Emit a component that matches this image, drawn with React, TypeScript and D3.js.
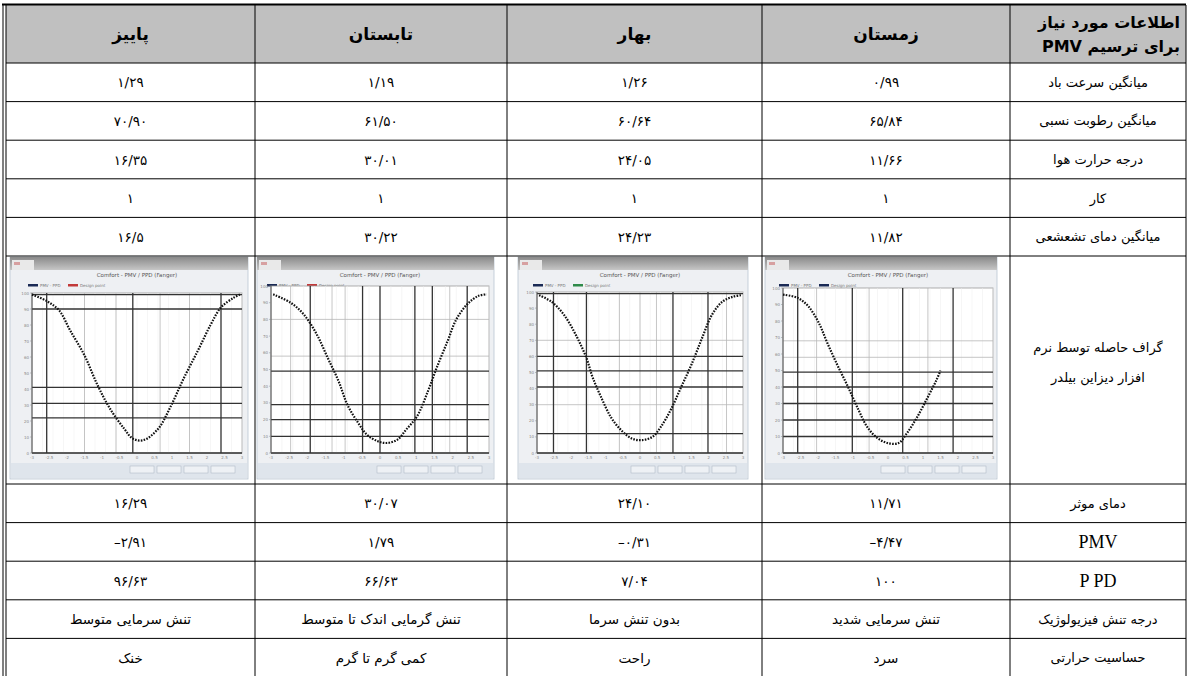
import * as d3 from "d3";

// ---- table values (columns left to right: autumn, summer, spring, winter) ----
const seasons = ["پاییز", "تابستان", "بهار", "زمستان"];
const headerLabel = ["اطلاعات مورد نیاز", "برای ترسیم PMV"];

const topLabels = [
  "میانگین سرعت باد",
  "میانگین رطوبت نسبی",
  "درجه حرارت هوا",
  "کار",
  "میانگین دمای تشعشعی",
];
const windSpeed = ["۱/۲۹", "۱/۱۹", "۱/۲۶", "۰/۹۹"];
const humidity = ["۷۰/۹۰", "۶۱/۵۰", "۶۰/۶۴", "۶۵/۸۴"];
const airTemp = ["۱۶/۳۵", "۳۰/۰۱", "۲۴/۰۵", "۱۱/۶۶"];
const work = ["۱", "۱", "۱", "۱"];
const radiantTemp = ["۱۶/۵", "۳۰/۲۲", "۲۴/۲۳", "۱۱/۸۲"];

const chartLabel = ["گراف حاصله توسط نرم", "افزار دیزاین بیلدر"];

const bottomLabels = ["دمای موثر", "PMV", "P PD", "درجه تنش فیزیولوژیک", "حساسیت حرارتی"];
const effectiveTemp = ["۱۶/۲۹", "۳۰/۰۷", "۲۴/۱۰", "۱۱/۷۱"];
const pmv = ["–۲/۹۱", "۱/۷۹", "–۰/۳۱", "–۴/۴۷"];
const ppd = ["۹۶/۶۳", "۶۶/۶۳", "۷/۰۴", "۱۰۰"];
const stress = ["تنش سرمایی متوسط", "تنش گرمایی اندک تا متوسط", "بدون تنش سرما", "تنش سرمایی شدید"];
const sensation = ["خنک", "کمی گرم تا گرم", "راحت", "سرد"];

// ---- embedded chart screenshots, read as % of plot width / height ----
const autumnCurve: [number, number][] = [
  [0, 99], [7, 95], [13, 89], [18, 77], [25, 61], [31, 43], [37, 28], [44, 15], [48, 9],
  [53, 8], [60, 15], [66, 29], [72, 46], [79, 64], [85, 80], [90, 91], [96, 97], [99, 99],
];
const summerCurve: [number, number][] = [
  [1, 95], [9, 90], [15, 83], [21, 71], [26, 57], [31, 43], [35, 29], [40, 18], [44, 11],
  [49, 7], [53, 6], [58, 8], [62, 14], [67, 22], [72, 37], [76, 51], [81, 67], [85, 80],
  [90, 89], [95, 94], [99, 95],
];
const springCurve: [number, number][] = [
  [1, 98], [7, 94], [13, 86], [19, 73], [24, 59], [27, 47], [31, 35], [36, 22], [41, 14],
  [46, 9], [51, 8], [56, 10], [60, 16], [65, 27], [70, 41], [75, 55], [80, 71], [85, 86],
  [90, 94], [95, 97], [99, 98],
];
const winterCurve: [number, number][] = [
  [0, 96], [7, 94], [12, 89], [17, 79], [21, 67], [26, 53], [31, 40], [36, 26], [40, 16],
  [45, 9], [50, 6], [55, 6], [59, 12], [64, 22], [69, 34], [73, 44], [75, 50],
];

const autumnHDark = [99, 90, 41, 31, 22];
const autumnVDark = [7, 48, 90];
const autumnVLight = [40, 61, 25, 75];
const summerHDark = [49, 29, 20, 10];
const summerHLight = [58, 80];
const summerVDark = [18, 42, 50, 66, 74, 90];
const summerVLight = [9, 28, 34, 82];
const springHDark = [99, 60, 51, 41, 12];
const springHLight = [70, 30];
const springVDark = [8, 24, 66, 83];
const springVLight = [50, 58, 40, 92];
const winterHDark = [49, 40, 30, 20, 10];
const winterHLight = [68, 58];
const winterVDark = [7, 33, 57, 81];
const winterVLight = [16, 41, 69];

const curves = [autumnCurve, summerCurve, springCurve, winterCurve];
const hDark = [autumnHDark, summerHDark, springHDark, winterHDark];
const hLight = [[], summerHLight, springHLight, winterHLight];
const vDark = [autumnVDark, summerVDark, springVDark, winterVDark];
const vLight = [autumnVLight, summerVLight, springVLight, winterVLight];
const legendColors = [["#1a2a55", "#c23a3a"], ["#1a2a55", "#c23a3a"], ["#1a2a55", "#2f8a4a"], ["#1a2a55", "#1a2a55"]];

// ---- layout ----
const W = 1189;
const H = 676;
const colEdges = [6, 255, 507, 762, 1010, 1186];
const headerTop = 5;
const headerBottom = 63;
const rowH = 38.6;
const chartRowH = 228;

const rowEdges: number[] = [headerTop, headerBottom];
for (let i = 0; i < 5; i++) rowEdges.push(rowEdges[rowEdges.length - 1] + rowH);
rowEdges.push(rowEdges[rowEdges.length - 1] + chartRowH);
for (let i = 0; i < 5; i++) rowEdges.push(rowEdges[rowEdges.length - 1] + rowH);

// image frame inside each chart cell: [left, right] and plot insets
const frames = [
  { x0: 10, x1: 248, pl: 22, pr: 6, pt: 36 },
  { x0: 257, x1: 494, pl: 14, pr: 5, pt: 29 },
  { x0: 518, x1: 748, pl: 19, pr: 5, pt: 35 },
  { x0: 765, x1: 997, pl: 18, pr: 4, pt: 31 },
];

const FA = "'DejaVu Sans', sans-serif";
const SERIF = "'Liberation Serif', 'DejaVu Serif', serif";

const MiniChart = ({ i }: { i: number }) => {
  const f = frames[i];
  const y0 = rowEdges[6] + 1;
  const y1 = rowEdges[7] - 5;
  const px0 = f.x0 + f.pl;
  const px1 = f.x1 - f.pr;
  const py0 = y0 + f.pt;
  const py1 = y1 - 26;
  const x = d3.scaleLinear().domain([0, 100]).range([px0, px1]);
  const y = d3.scaleLinear().domain([0, 100]).range([py1, py0]);
  const xAxis = d3.scaleLinear().domain([-3, 3]).range([px0, px1]);
  const line = d3
    .line<[number, number]>()
    .x((d) => x(d[0]))
    .y((d) => y(d[1]))
    .curve(d3.curveCatmullRom);
  const gid = `tb${i}`;
  return (
    <g>
      <defs>
        <linearGradient id={gid} x1="0" y1="0" x2="0" y2="1">
          <stop offset="0" stopColor="#8a8a8a" />
          <stop offset="1" stopColor="#c6c6c6" />
        </linearGradient>
      </defs>
      <rect x={f.x0} y={y0} width={f.x1 - f.x0} height={y1 - y0} fill="#eef0f3" stroke="#b9c6d3" strokeWidth={0.8} />
      <rect x={f.x0} y={y0} width={f.x1 - f.x0} height={13} fill={`url(#${gid})`} />
      <rect x={f.x0 + 2} y={y0 + 3} width={22} height={10} fill="#e9e9e9" />
      <rect x={f.x0 + 4} y={y0 + 5} width={6} height={3} fill="#d7a0a0" />
      <text x={(px0 + px1) / 2} y={y0 + 20} fontSize={5.5} fill="#555" textAnchor="middle" fontFamily={FA}>
        Comfort - PMV / PPD (Fanger)
      </text>
      <rect x={px0 - 4} y={y0 + 27} width={10} height={2.5} fill={legendColors[i][0]} />
      <text x={px0 + 8} y={y0 + 30} fontSize={4} fill="#777" fontFamily={FA}>PMV - PPD</text>
      <rect x={px0 + 36} y={y0 + 27} width={10} height={2.5} fill={legendColors[i][1]} />
      <text x={px0 + 48} y={y0 + 30} fontSize={4} fill="#777" fontFamily={FA}>Design point</text>
      <rect x={px0} y={py0} width={px1 - px0} height={py1 - py0} fill="#fff" stroke="#9a9a9a" strokeWidth={0.8} />
      {d3.range(0, 101, 5).map((v) => (
        <line key={`m${v}`} x1={x(v)} x2={x(v)} y1={py0} y2={py1} stroke="#ececec" strokeWidth={0.5} />
      ))}
      {vLight[i].map((v) => (
        <line key={`vl${v}`} x1={x(v)} x2={x(v)} y1={py0} y2={py1} stroke="#b8b8b8" strokeWidth={0.8} />
      ))}
      {hLight[i].map((v) => (
        <line key={`hl${v}`} x1={px0} x2={px1} y1={y(v)} y2={y(v)} stroke="#b8b8b8" strokeWidth={0.8} />
      ))}
      {vDark[i].map((v) => (
        <line key={`vd${v}`} x1={x(v)} x2={x(v)} y1={py0} y2={py1} stroke="#333" strokeWidth={1.3} />
      ))}
      {hDark[i].map((v) => (
        <line key={`hd${v}`} x1={px0} x2={px1} y1={y(v)} y2={y(v)} stroke="#333" strokeWidth={1.3} />
      ))}
      <line x1={px0} x2={px1} y1={py1} y2={py1} stroke="#333" strokeWidth={1.3} />
      <line x1={px0} x2={px0} y1={py0} y2={py1} stroke="#555" strokeWidth={1} />
      {y.ticks(10).map((t) => (
        <g key={`yt${t}`}>
          <line x1={px0 - 2} x2={px0} y1={y(t)} y2={y(t)} stroke="#888" strokeWidth={0.5} />
          <text x={px0 - 3} y={y(t) + 1.5} fontSize={4} fill="#888" textAnchor="end" fontFamily={FA}>
            {t}
          </text>
        </g>
      ))}
      {xAxis.ticks(12).map((t) => (
        <text key={`xt${t}`} x={xAxis(t)} y={py1 + 6} fontSize={4} fill="#888" textAnchor="middle" fontFamily={FA}>
          {t}
        </text>
      ))}
      <path d={line(curves[i]) ?? ""} fill="none" stroke="#111" strokeWidth={2.2} strokeDasharray="1.6 1.3" />
      <rect x={f.x0 + 1} y={py1 + 10} width={f.x1 - f.x0 - 2} height={y1 - py1 - 11} fill="#dfe5ec" />
      {[0, 1, 2, 3].map((b) => (
        <rect
          key={`b${b}`}
          x={px1 - 112 + b * 27}
          y={py1 + 13}
          width={24}
          height={7}
          fill="#eef1f5"
          stroke="#a9b4c0"
          strokeWidth={0.5}
        />
      ))}
    </g>
  );
};

const App = () => {
  const colCenter = (c: number) => (colEdges[c] + colEdges[c + 1]) / 2;
  const rowCenter = (r: number) => (rowEdges[r] + rowEdges[r + 1]) / 2;
  const topValues = [windSpeed, humidity, airTemp, work, radiantTemp];
  const bottomValues = [effectiveTemp, pmv, ppd, stress, sensation];

  return (
    <svg width={W} height={H} style={{ position: "absolute", left: 0, top: 0, background: "#fff" }}>
      <rect x={0} y={0} width={W} height={H} fill="#fff" />
      <rect x={colEdges[0]} y={headerTop} width={colEdges[5] - colEdges[0]} height={headerBottom - headerTop} fill="#c0c0c0" />

      {/* header */}
      {seasons.map((s, c) => (
        <text key={s} x={colCenter(c)} y={rowCenter(0)} fontSize={17} fontWeight="bold" fontFamily={FA} textAnchor="middle" dominantBaseline="central" direction="rtl">
          {s}
        </text>
      ))}
      {headerLabel.map((t, k) => (
        <text key={t} x={1180} y={rowCenter(0) + (k - 0.5) * 24} fontSize={16} fontWeight="bold" fontFamily={FA} textAnchor="start" dominantBaseline="central" direction="rtl">
          {t}
        </text>
      ))}

      {/* upper rows */}
      {topLabels.map((lab, r) => (
        <g key={lab}>
          <text x={colCenter(4)} y={rowCenter(r + 1)} fontSize={13} fontFamily={FA} textAnchor="middle" dominantBaseline="central" direction="rtl">
            {lab}
          </text>
          {topValues[r].map((v, c) => (
            <text key={c} x={colCenter(c)} y={rowCenter(r + 1)} fontSize={13.5} fontFamily={FA} textAnchor="middle" dominantBaseline="central">
              {v}
            </text>
          ))}
        </g>
      ))}

      {/* chart row */}
      {seasons.map((s, i) => (
        <MiniChart key={`c${s}`} i={i} />
      ))}
      {chartLabel.map((t, k) => (
        <text key={t} x={colCenter(4)} y={rowCenter(6) + (k - 0.5) * 30 - 8} fontSize={13} fontFamily={FA} textAnchor="middle" dominantBaseline="central" direction="rtl">
          {t}
        </text>
      ))}

      {/* lower rows */}
      {bottomLabels.map((lab, r) => {
        const latin = lab === "PMV" || lab === "P PD";
        return (
          <g key={lab}>
            <text
              x={colCenter(4)}
              y={rowCenter(r + 7)}
              fontSize={latin ? 18 : 13}
              fontFamily={latin ? SERIF : FA}
              textAnchor="middle"
              dominantBaseline="central"
              direction={latin ? "ltr" : "rtl"}
            >
              {lab}
            </text>
            {bottomValues[r].map((v, c) => (
              <text key={c} x={colCenter(c)} y={rowCenter(r + 7)} fontSize={13.5} fontFamily={FA} textAnchor="middle" dominantBaseline="central" direction={r >= 3 ? "rtl" : "ltr"}>
                {v}
              </text>
            ))}
          </g>
        );
      })}

      {/* grid */}
      {rowEdges.slice(1).map((yy, k) => (
        <line key={`h${k}`} x1={colEdges[0]} x2={colEdges[5]} y1={yy} y2={yy} stroke="#000" strokeWidth={1} />
      ))}
      {colEdges.slice(1).map((xx, k) => (
        <line key={`v${k}`} x1={xx} x2={xx} y1={headerTop} y2={H} stroke="#000" strokeWidth={1} />
      ))}
      <line x1={2} x2={colEdges[5]} y1={headerTop - 0.5} y2={headerTop - 0.5} stroke="#000" strokeWidth={2} />
      <line x1={3} x2={3} y1={headerTop - 1} y2={H} stroke="#000" strokeWidth={1} />
      <line x1={colEdges[0]} x2={colEdges[0]} y1={headerTop - 1} y2={H} stroke="#000" strokeWidth={1} />
    </svg>
  );
};

export default App;
